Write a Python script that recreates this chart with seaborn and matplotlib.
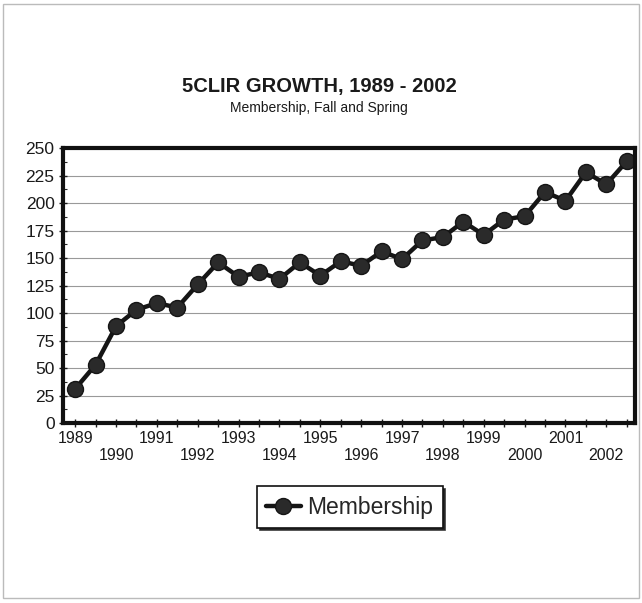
import numpy as np
import pandas as pd
import matplotlib
matplotlib.use('Agg')
import matplotlib.pyplot as plt
import seaborn as sns
from matplotlib.patches import Rectangle

years = list(range(1989, 2003))
terms = ['Fall', 'Spring']
membership = [31, 53, 88, 103, 109, 105, 126, 146, 133, 137,
              131, 146, 134, 147, 143, 156, 149, 166, 169, 183,
              171, 185, 188, 210, 202, 228, 217, 238]

title = '5CLIR GROWTH, 1989 - 2002'
subtitle = 'Membership, Fall and Spring'

df = pd.DataFrame({
    'term': [f'{t} {y}' for y in years for t in terms],
    'pos': np.arange(len(membership)),
    'Membership': membership,
})

sns.set_theme(style='white')
plt.rcParams['font.family'] = ['Liberation Sans', 'DejaVu Sans']

fig = plt.figure(figsize=(6.42, 6.03), dpi=100)
ax = fig.add_axes([0.098, 0.2985, 0.891, 0.456])

sns.lineplot(data=df, x='pos', y='Membership', ax=ax, color='#151515',
             lw=3.2, marker='o', markersize=11.5, markerfacecolor='#2a2a2a',
             markeredgecolor='#151515', markeredgewidth=1, label='Membership',
             legend=False)

ax.set_xlim(-0.6, len(membership) - 0.6)
ax.set_ylim(0, 250)
ax.set_yticks(np.arange(0, 251, 25))
ax.set_yticks(np.arange(12.5, 250, 25), minor=True)
ax.yaxis.grid(True, color='#999999', lw=0.8)
ax.set_axisbelow(True)

xt = df['pos'][::2].tolist()
xl = [str(y) if k % 2 == 0 else '\n' + str(y) for k, y in enumerate(years)]
ax.set_xticks(xt)
ax.set_xticklabels(xl, linespacing=1.15)
ax.set_xticks(df['pos'][1::2].tolist(), minor=True)
ax.tick_params(axis='x', which='both', direction='inout', length=6, width=1,
               bottom=True, labelsize=11.5, pad=3, colors='#1a1a1a')
ax.tick_params(axis='y', which='major', direction='inout', length=6, width=1,
               left=True, labelsize=12.5, pad=3, colors='#1a1a1a')
ax.tick_params(axis='y', which='minor', direction='in', length=3, width=0.8,
               left=True)
ax.set_xlabel('')
ax.set_ylabel('')
for s in ax.spines.values():
    s.set_color('#111111')
    s.set_linewidth(3)

fig.text(0.497, 0.856, title, ha='center', va='center', fontsize=14.5,
         fontweight='bold', color='#1a1a1a')
fig.text(0.497, 0.821, subtitle, ha='center', va='center', fontsize=10,
         color='#1a1a1a')

handles, labels = ax.get_legend_handles_labels()
leg = fig.legend(handles, labels, loc='center', bbox_to_anchor=(0.545, 0.159),
                 fontsize=16.5, frameon=True, fancybox=False,
                 shadow={'color': '#222222', 'alpha': 0.9, 'ox': 1.8, 'oy': -1.8},
                 handlelength=1.5, handletextpad=0.3, borderpad=0.4)
leg.get_frame().set_edgecolor('#111111')
leg.get_frame().set_linewidth(1.2)

fig.patches.append(Rectangle((0.005, 0.008), 0.99, 0.985, transform=fig.transFigure,
                             fill=False, edgecolor='#bbbbbb', lw=1))

fig.savefig('out.png', dpi=100)
